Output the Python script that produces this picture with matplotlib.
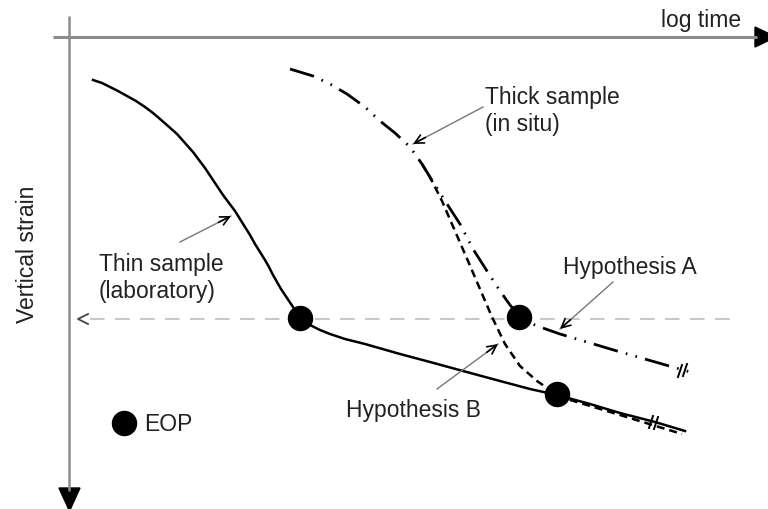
import numpy as np
import matplotlib.pyplot as plt
from matplotlib.patches import Polygon

plt.rcParams['font.family'] = ['Liberation Sans', 'DejaVu Sans']

# curve points (x = log time, y = vertical strain, both in drawing units, y down)
thin_x = [93, 102, 110, 118, 127, 136, 145, 153, 160, 168, 177, 185, 193, 199, 205, 211, 217, 223,
          229, 235, 240, 245, 250, 255, 260, 265, 269, 273, 277, 281, 285, 289, 293, 297, 300,
          305, 312, 320, 330, 345, 365, 400, 430, 463, 500, 530, 557, 590, 620, 655, 685]
thin_y = [81, 84, 88, 92, 97, 102, 108, 114, 120, 127, 135, 144, 153, 161, 169, 178, 187, 196,
          204, 212, 220, 228, 236, 245, 253, 261, 268, 276, 283, 290, 296, 302, 308, 314, 319,
          323, 327, 331, 335, 340, 345, 355, 363, 372, 382, 390, 396, 405, 414, 423, 432]

thick_x = [290, 313, 330, 347, 365, 380, 395, 410, 422, 433, 447, 460, 473, 487, 500, 510, 520,
           530, 540, 560, 617, 690]
thick_y = [70, 77, 85, 95, 108, 122, 134, 148, 165, 183, 205, 225, 250, 272, 292, 306, 318,
           324, 328, 335, 352, 373]

hypb_x = [422, 432, 442, 455, 468, 480, 492, 505, 520, 537, 550, 557, 620, 682]
hypb_y = [165, 182, 202, 232, 262, 290, 318, 345, 367, 382, 391, 397, 416, 435]

# end-of-primary points
eop_x = [300, 519, 557]
eop_y = [319, 318, 395]

# break marks "//" at the curve ends
break_x = [680, 685, 651, 656]
break_y = [372, 371, 423, 424]

eop_level = 320

fig = plt.figure(figsize=(7.68, 5.10), dpi=100)
ax = fig.add_axes([0, 0, 1, 1])
ax.set_xlim(0, 768)
ax.set_ylim(510, 0)
ax.axis('off')

# axes
ax.plot([53, 757], [38, 38], color='#8c8c8c', lw=2.2, solid_capstyle='butt')
ax.add_patch(Polygon([[755, 28], [755, 48], [776, 38]], closed=True, color='black'))
ax.plot([69, 69], [17, 492], color='#8c8c8c', lw=1.8, solid_capstyle='butt')
ax.add_patch(Polygon([[59, 489], [80, 489], [69.5, 512]], closed=True, color='black'))
ax.text(741, 20, 'log time', ha='right', va='center', fontsize=16.5, color='#222')
ax.text(27, 254, 'Vertical strain', rotation=90, ha='center', va='center', fontsize=16.5,
        color='#222')

# EOP reference level
ax.plot([90, 732], [eop_level, eop_level], color='#c8c8c8', lw=1.5, dashes=(7, 5))
ax.plot([88, 78, 88], [eop_level - 5, eop_level, eop_level + 5], color='#444', lw=1.3)

# curves
ax.plot(hypb_x, hypb_y, color='black', lw=1.8, dashes=(3.2, 2))
ax.plot(thin_x, thin_y, color='black', lw=1.8)
ax.plot(thick_x, thick_y, color='black', lw=2, dashes=(9, 3, 0.6, 3, 0.6, 3))
for bx, by in zip(break_x, break_y):
    ax.plot([bx - 2, bx + 2], [by + 6, by - 6], color='black', lw=1.4)

ax.scatter(eop_x, eop_y, s=300, color='black', zorder=5)

# labels with pointer arrows
notes = [
    ('Thick sample\n(in situ)', (485, 111), (483, 108), (413, 145)),
    ('Thin sample\n(laboratory)', (99, 278), (180, 243), (231, 217)),
    ('Hypothesis A', (563, 268), (613, 283), (560, 330)),
    ('Hypothesis B', (346, 411), (437, 390), (498, 345)),
]
for label, pos, tail, head in notes:
    ax.text(pos[0], pos[1], label, ha='left', va='center', fontsize=16.5,
            color='#222', linespacing=1.2)
    ax.plot([tail[0], head[0]], [tail[1], head[1]], color='#777', lw=1)
    d = np.array(head) - np.array(tail)
    d = d / np.hypot(*d)
    start = np.array(head) - 14 * d
    ax.annotate('', xy=head, xytext=tuple(start),
                arrowprops=dict(arrowstyle='->', color='black', lw=1.2,
                                mutation_scale=16, shrinkA=0, shrinkB=0))

# legend
ax.scatter([124], [424], s=300, color='black')
ax.text(144, 425, 'EOP', ha='left', va='center', fontsize=16.5, color='#222')

fig.savefig('out.png', dpi=100)
